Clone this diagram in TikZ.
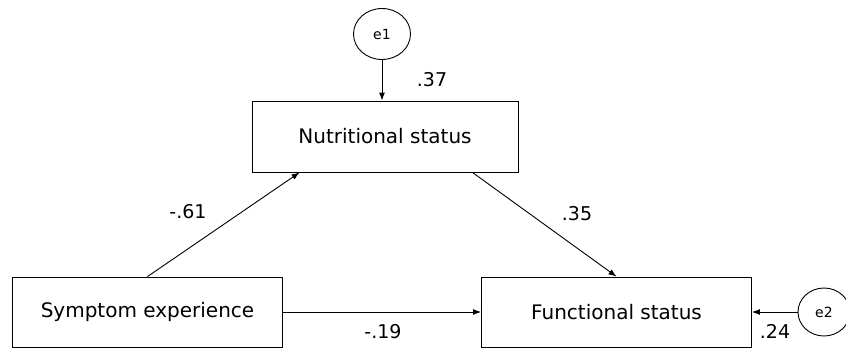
\documentclass[tikz,border=0pt]{standalone}
\usepackage{fontspec}
\setmainfont{DejaVu Sans}
\usetikzlibrary{arrows.meta,calc,shapes.geometric}
\begin{document}
\begin{tikzpicture}[x=1pt,y=-1pt,
  box/.style={draw,line width=0.9pt,minimum width=270pt,minimum height=70pt,inner sep=0pt,font=\fontsize{20}{24}\selectfont},
  err/.style={draw,ellipse,line width=0.9pt,inner sep=0pt,font=\fontsize{14}{16}\selectfont},
  arr/.style={line width=0.9pt,-{Latex[length=8pt,width=6pt]}},
  coef/.style={font=\fontsize{19}{22}\selectfont,inner sep=0pt}]
\useasboundingbox (0,0) rectangle (846,349);
\node[box,minimum width=266pt,minimum height=71pt] (nut) at (385,136.5) {Nutritional status};
\node[box] (sym) at (147.5,312) {Symptom experience};
\node[box] (fun) at (616.5,312) {Functional status};
\node[err,minimum width=57pt,minimum height=51pt] (e1) at (382,34) {e1};
\node[err,minimum width=52pt,minimum height=48pt] (e2) at (824,312) {e2};
\draw[arr] (e1.south) -- (e1.south |- nut.north);
\draw[arr] (sym.north) -- ($(nut.south west)+(48,0)$);
\draw[arr] ($(nut.south east)+(-46,0)$) -- (fun.north);
\draw[arr] (sym.east) -- (fun.west);
\draw[arr] (e2.west) -- (fun.east);
\node[coef] (c1) at (432,80) {.37};
\node[coef] (c2) at (188,212) {-.61};
\node[coef] (c3) at (577,214) {.35};
\node[coef] (c4) at (383,332) {-.19};
\node[coef] (c5) at (775,331) {.24};
\end{tikzpicture}
\end{document}
